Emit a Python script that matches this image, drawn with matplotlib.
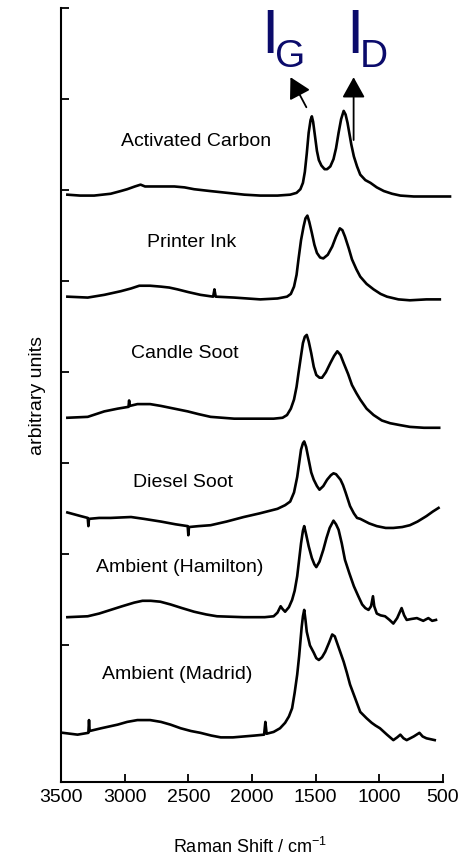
import matplotlib.pyplot as plt

plt.rcParams['font.family'] = ['Liberation Sans', 'DejaVu Sans']
plt.rcParams['mathtext.default'] = 'regular'

# spectra (wavenumber in cm-1, stacked arbitrary intensity)
ac_wn = [3450, 3350, 3240, 3110, 3030, 2980, 2920, 2875, 2840, 2795, 2700, 2610, 2530, 2455, 2330, 2195,
         2060, 1935, 1800, 1700, 1650, 1620, 1600, 1585, 1570, 1555, 1540, 1530, 1520, 1505, 1490, 1475,
         1455, 1430, 1410, 1385, 1360, 1340, 1320, 1300, 1280, 1265, 1250, 1240, 1220, 1200, 1175, 1150,
         1110, 1070, 1020, 965, 900, 835, 730, 630, 540, 445]
ac_int = [6.45, 6.44, 6.44, 6.46, 6.49, 6.51, 6.54, 6.56, 6.54, 6.54, 6.54, 6.54, 6.53, 6.51, 6.49, 6.47,
          6.45, 6.44, 6.44, 6.45, 6.47, 6.51, 6.58, 6.70, 6.90, 7.13, 7.27, 7.31, 7.25, 7.09, 6.93, 6.83,
          6.77, 6.73, 6.73, 6.76, 6.84, 6.96, 7.13, 7.28, 7.37, 7.33, 7.24, 7.16, 7.00, 6.87, 6.76, 6.67,
          6.61, 6.58, 6.53, 6.49, 6.46, 6.44, 6.43, 6.43, 6.43, 6.43]

ink_wn = [3450, 3290, 3160, 3030, 2950, 2885, 2800, 2715, 2650, 2585, 2500, 2405, 2305, 2295, 2285, 2140,
          1935, 1800, 1725, 1695, 1670, 1650, 1635, 1615, 1595, 1580, 1565, 1550, 1530, 1510, 1490, 1465,
          1440, 1405, 1370, 1340, 1310, 1290, 1270, 1240, 1215, 1180, 1150, 1100, 1045, 990, 940, 850,
          760, 630, 525]
ink_int = [5.33, 5.32, 5.35, 5.39, 5.42, 5.45, 5.45, 5.44, 5.43, 5.41, 5.38, 5.35, 5.33, 5.41, 5.33, 5.32,
           5.30, 5.31, 5.33, 5.36, 5.44, 5.57, 5.74, 5.95, 6.10, 6.19, 6.22, 6.15, 6.03, 5.90, 5.81, 5.76,
           5.75, 5.79, 5.88, 5.99, 6.08, 6.06, 5.99, 5.86, 5.74, 5.63, 5.55, 5.47, 5.41, 5.36, 5.33, 5.30,
           5.29, 5.30, 5.30]

candle_wn = [3450, 3290, 3160, 3055, 2970, 2965, 2960, 2900, 2800, 2715, 2610, 2505, 2420, 2325, 2140, 1950,
             1830, 1760, 1725, 1695, 1670, 1650, 1635, 1615, 1600, 1585, 1570, 1555, 1535, 1515, 1495, 1470,
             1450, 1420, 1385, 1355, 1330, 1305, 1280, 1245, 1215, 1180, 1150, 1100, 1045, 980, 915, 840,
             760, 650, 530]
candle_int = [4.00, 4.01, 4.07, 4.10, 4.12, 4.19, 4.13, 4.15, 4.15, 4.13, 4.10, 4.07, 4.04, 4.01, 3.99, 3.99,
              3.99, 4.00, 4.03, 4.10, 4.20, 4.34, 4.49, 4.68, 4.82, 4.89, 4.91, 4.84, 4.71, 4.56, 4.47, 4.44,
              4.44, 4.50, 4.60, 4.68, 4.73, 4.69, 4.60, 4.48, 4.36, 4.27, 4.20, 4.10, 4.03, 3.97, 3.94, 3.92,
              3.90, 3.89, 3.89]

diesel_wn = [3450, 3345, 3290, 3285, 3280, 3200, 3110, 2950, 2850, 2715, 2600, 2505, 2500, 2495, 2420, 2325,
             2200, 2065, 1940, 1800, 1740, 1700, 1670, 1645, 1630, 1615, 1600, 1590, 1575, 1555, 1535, 1515,
             1490, 1470, 1440, 1410, 1380, 1360, 1340, 1305, 1285, 1265, 1230, 1200, 1175, 1150, 1080, 1020,
             950, 890, 820, 760, 700, 630, 580, 535]
diesel_int = [2.96, 2.92, 2.90, 2.81, 2.89, 2.90, 2.90, 2.91, 2.89, 2.86, 2.83, 2.81, 2.71, 2.80, 2.81, 2.82,
              2.86, 2.91, 2.95, 3.00, 3.04, 3.08, 3.18, 3.35, 3.50, 3.65, 3.72, 3.74, 3.68, 3.54, 3.40, 3.32,
              3.25, 3.21, 3.25, 3.32, 3.37, 3.39, 3.38, 3.32, 3.26, 3.18, 3.03, 2.95, 2.90, 2.89, 2.84, 2.81,
              2.79, 2.79, 2.80, 2.82, 2.86, 2.92, 2.97, 3.01]

ham_wn = [3450, 3290, 3200, 3110, 3020, 2925, 2860, 2795, 2720, 2640, 2550, 2455, 2360, 2275, 2065, 1900,
          1830, 1800, 1775, 1760, 1740, 1710, 1685, 1665, 1645, 1630, 1615, 1600, 1590, 1575, 1555, 1530,
          1510, 1495, 1470, 1440, 1415, 1390, 1360, 1340, 1320, 1295, 1270, 1235, 1200, 1165, 1135, 1110,
          1085, 1065, 1050, 1040, 1020, 990, 955, 920, 890, 860, 825, 805, 785, 750, 705, 655, 615, 585, 555]
ham_int = [1.81, 1.82, 1.85, 1.89, 1.93, 1.97, 1.99, 1.99, 1.98, 1.95, 1.91, 1.87, 1.84, 1.82, 1.81, 1.81,
           1.82, 1.86, 1.93, 1.90, 1.87, 1.92, 2.00, 2.10, 2.26, 2.44, 2.62, 2.76, 2.81, 2.72, 2.59, 2.46,
           2.39, 2.36, 2.42, 2.55, 2.68, 2.79, 2.87, 2.83, 2.77, 2.62, 2.44, 2.29, 2.15, 2.04, 1.95, 1.91,
           1.89, 1.93, 2.04, 1.93, 1.85, 1.83, 1.82, 1.78, 1.74, 1.80, 1.91, 1.83, 1.78, 1.79, 1.80, 1.77,
           1.80, 1.77, 1.78]

mad_wn = [3485, 3370, 3285, 3280, 3275, 3185, 3120, 3055, 2980, 2900, 2800, 2715, 2640, 2560, 2480, 2405,
          2320, 2245, 2150, 2065, 1980, 1905, 1895, 1885, 1830, 1780, 1740, 1710, 1685, 1665, 1645, 1630,
          1620, 1610, 1600, 1590, 1580, 1570, 1545, 1515, 1495, 1475, 1450, 1425, 1395, 1370, 1350, 1335,
          1310, 1280, 1255, 1230, 1190, 1150, 1100, 1060, 1030, 995, 940, 890, 860, 835, 810, 785, 730,
          685, 660, 630, 565]
mad_int = [0.54, 0.52, 0.54, 0.68, 0.56, 0.59, 0.61, 0.63, 0.66, 0.68, 0.68, 0.66, 0.63, 0.59, 0.56, 0.54,
           0.51, 0.49, 0.49, 0.50, 0.51, 0.52, 0.66, 0.53, 0.55, 0.59, 0.65, 0.72, 0.81, 0.98, 1.18, 1.38,
           1.54, 1.70, 1.82, 1.89, 1.78, 1.65, 1.50, 1.42, 1.36, 1.34, 1.37, 1.43, 1.53, 1.62, 1.60, 1.54,
           1.44, 1.32, 1.20, 1.07, 0.92, 0.77, 0.70, 0.65, 0.62, 0.59, 0.52, 0.46, 0.49, 0.52, 0.48, 0.46,
           0.50, 0.54, 0.50, 0.48, 0.46]

spectra = [(ac_wn, ac_int), (ink_wn, ink_int), (candle_wn, candle_int),
           (diesel_wn, diesel_int), (ham_wn, ham_int), (mad_wn, mad_int)]

labels = ['Activated Carbon', 'Printer Ink', 'Candle Soot', 'Diesel Soot',
          'Ambient (Hamilton)', 'Ambient (Madrid)']
label_x = [2443, 2474, 2525, 2539, 2568, 2584]
label_y = [7.03, 5.92, 4.71, 3.29, 2.36, 1.18]

x_ticks = [3500, 3000, 2500, 2000, 1500, 1000, 500]

fig = plt.figure(figsize=(4.68, 8.57), dpi=100)
ax = fig.add_axes([61 / 468, 75 / 857, 382 / 468, 774 / 857])

for wn, inten in spectra:
    ax.plot(wn, inten, color='black', lw=1.9, clip_on=False, solid_joinstyle='round')

for lab, lx, ly in zip(labels, label_x, label_y):
    ax.text(lx, ly, lab, ha='center', va='center', fontsize=14)

# I_G / I_D annotations
navy = '#0b0b6b'
ax.text(1863, 8.01, 'I', color=navy, fontsize=45, ha='center', va='baseline')
ax.text(1702, 7.85, 'G', color=navy, fontsize=28, ha='center', va='baseline')
ax.text(1193, 8.01, 'I', color=navy, fontsize=45, ha='center', va='baseline')
ax.text(1040, 7.85, 'D', color=navy, fontsize=28, ha='center', va='baseline')

arrow = dict(arrowstyle='-|>,head_length=0.9,head_width=0.5', mutation_scale=14,
             lw=1.3, color='black', shrinkA=0, shrinkB=0)
ax.annotate('', xy=(1698, 7.74), xytext=(1573, 7.41), arrowprops=arrow)
ax.annotate('', xy=(1202, 7.74), xytext=(1202, 7.05), arrowprops=arrow)

ax.set_xlim(3500, 500)
ax.set_ylim(0, 8.5)
ax.set_xticks(x_ticks)
ax.set_xticklabels([str(t) for t in x_ticks], fontsize=14)
ax.set_yticks([1.5, 2.5, 3.5, 4.5, 5.5, 6.5, 7.5, 8.5])
ax.set_yticklabels([])
ax.tick_params(axis='both', direction='in', length=6, width=1.3, pad=5)
for side in ['top', 'right']:
    ax.spines[side].set_visible(False)
for side in ['left', 'bottom']:
    ax.spines[side].set_linewidth(1.5)

fig.text(250 / 468, 4 / 857, 'Raman Shift / cm$^{-1}$', ha='center', va='baseline', fontsize=13)
fig.text(38 / 468, 1 - 396 / 857, 'arbitrary units', rotation=90, ha='center', va='center', fontsize=14)

fig.savefig('out.png', dpi=100)
